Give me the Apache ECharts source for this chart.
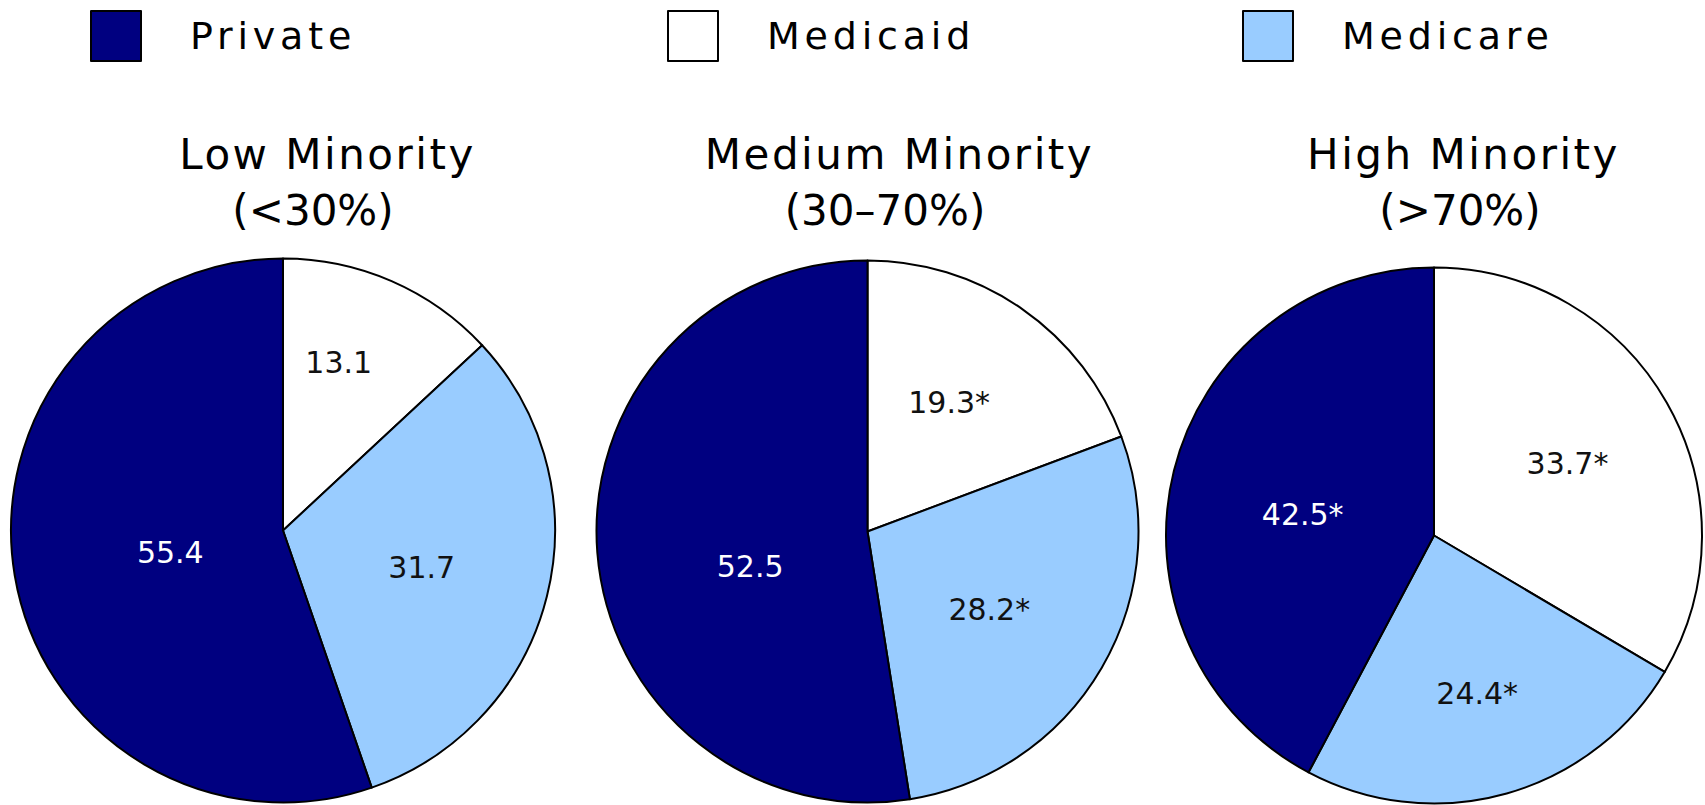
<!DOCTYPE html>
<html>
<head>
<meta charset="utf-8">
<script src="https://cdn.jsdelivr.net/npm/echarts@6/dist/echarts.min.js"></script>
<style>
  html, body { margin: 0; padding: 0; background: #ffffff; }
  #chart { width: 1705px; height: 805px; }
  #chart text[style*="Verdana"], #chart text[font-family*="Verdana"] { letter-spacing: 2.5px; }
  #chart text[style*="Tahoma"], #chart text[font-family*="Tahoma"] { letter-spacing: 4.8px; }
</style>
</head>
<body>
<div id="chart"></div>
<script>
// ---- data ----
const groups = ['Low Minority', 'Medium Minority', 'High Minority'];
const groupRanges = ['(<30%)', '(30\u201370%)', '(>70%)'];
const payers = ['Medicaid', 'Medicare', 'Private'];          // clockwise from 12 o'clock
const legendOrder = ['Private', 'Medicaid', 'Medicare'];
const medicaid = [13.1, 19.3, 33.7];
const medicare = [31.7, 28.2, 24.4];
const privateIns = [55.4, 52.5, 42.5];
const medicaidSig = [false, true, true];
const medicareSig = [false, true, true];
const privateSig = [false, false, true];

// ---- layout / style ----
const colors = { Private: '#000080', Medicaid: '#ffffff', Medicare: '#99ccff' };
const labelColors = { Private: '#ffffff', Medicaid: '#111111', Medicare: '#111111' };
const centers = [[283, 530.5], [867.5, 531.5], [1434, 535.5]];
const radii = [272, 271, 268];
const labelOffsets = [
  [[55.7, -167.7], [138.7, 36.5], [-112.7, 21.7]],
  [[81.6, -129.4], [121.8, 78.3], [-117.4, 34.8]],
  [[133.5, -72.5], [43.2, 157.5], [-131.3, -21.2]]
];
const titleX1 = [327.5, 899.5, 1463.5];
const titleX2 = [313, 885, 1460];
const legendLeft = [90, 667, 1242];

const values = [medicaid, medicare, privateIns];
const sigs = [medicaidSig, medicareSig, privateSig];

const series = groups.map(function (g, gi) {
  return {
    type: 'pie',
    name: g,
    center: centers[gi],
    radius: [0, radii[gi]],
    startAngle: 90,
    clockwise: true,
    avoidLabelOverlap: false,
    silent: true,
    animation: false,
    emphasis: { disabled: true },
    itemStyle: { borderColor: '#000000', borderWidth: 2 },
    label: {
      show: true,
      position: 'inside',
      fontFamily: 'DejaVu Sans',
      fontSize: 30,
      formatter: function (p) {
        return p.value.toFixed(1) + (p.data.sig ? '*' : '');
      }
    },
    labelLine: { show: false },
    labelLayout: function (params) {
      const off = labelOffsets[gi][params.dataIndex];
      return {
        x: centers[gi][0] + off[0],
        y: centers[gi][1] + off[1],
        align: 'center',
        verticalAlign: 'middle'
      };
    },
    data: payers.map(function (p, pi) {
      return {
        name: p,
        value: values[pi][gi],
        sig: sigs[pi][gi],
        itemStyle: { color: colors[p] },
        label: { color: labelColors[p] }
      };
    })
  };
});

const titles = [];
groups.forEach(function (g, gi) {
  titles.push({
    text: g,
    left: titleX1[gi],
    top: 133,
    textAlign: 'center',
    padding: 0,
    textStyle: { fontFamily: "'DejaVu Sans', Verdana", fontSize: 42, fontWeight: 'normal', color: '#000000' }
  });
  titles.push({
    text: groupRanges[gi],
    left: titleX2[gi],
    top: 189,
    textAlign: 'center',
    padding: 0,
    textStyle: { fontFamily: "'DejaVu Sans'", fontSize: 42, fontWeight: 'normal', color: '#000000' }
  });
});

const legends = legendOrder.map(function (name, i) {
  return {
    data: [name],
    left: legendLeft[i],
    top: 10,
    padding: 0,
    orient: 'horizontal',
    icon: 'rect',
    itemWidth: 50,
    itemHeight: 50,
    selectedMode: false,
    itemStyle: { borderColor: '#000000', borderWidth: 2 },
    textStyle: {
      fontFamily: "'DejaVu Sans', Tahoma",
      fontSize: 38,
      color: '#000000',
      padding: [0, 0, 0, 44]
    }
  };
});

const chart = echarts.init(document.getElementById('chart'), null, { renderer: 'svg' });
chart.setOption({
  backgroundColor: '#ffffff',
  animation: false,
  title: titles,
  legend: legends,
  series: series
});
</script>
</body>
</html>
